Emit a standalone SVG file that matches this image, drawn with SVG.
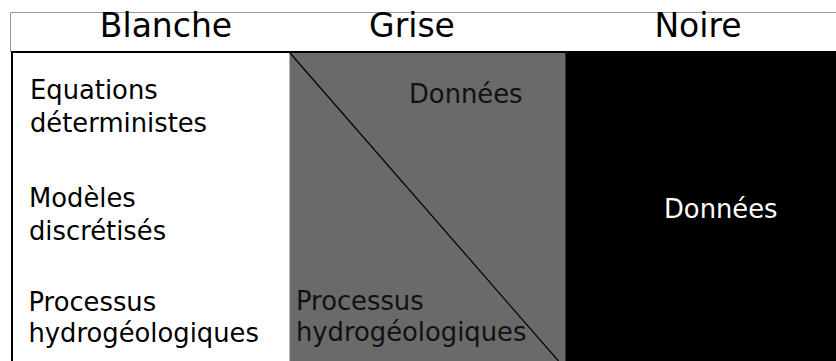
<svg xmlns="http://www.w3.org/2000/svg" width="836" height="361" viewBox="0 0 836 361">
<style>
text{font-family:"DejaVu Sans","Liberation Sans",sans-serif;}
.h{font-size:33px;fill:#000;text-anchor:middle;}
.t{font-size:25.8px;fill:#000;}
.tg{font-size:25.8px;fill:#111;}
.tw{font-size:25.8px;fill:#fff;}
</style>
<rect width="836" height="361" fill="#fff"/>
<g id="header">
<path d="M10.5 52 V12.5 H836" fill="none" stroke="#999" stroke-width="1"/>
<text class="h" x="166" y="37">Blanche</text>
<text class="h" x="412" y="37">Grise</text>
<text class="h" x="698" y="37">Noire</text>
</g>
<g id="blanche">
<rect x="12" y="52" width="278" height="309" fill="#fff"/>
<text class="t" x="30" y="99">Equations</text>
<text class="t" x="30" y="131.5">déterministes</text>
<text class="t" x="29" y="206.5">Modèles</text>
<text class="t" x="29" y="239.5">discrétisés</text>
<text class="t" x="28.5" y="310.5">Processus</text>
<text class="t" x="28.5" y="341.5">hydrogéologiques</text>
</g>
<g id="grise">
<rect x="289.5" y="52" width="276.5" height="309" fill="#6a6a6a"/>
<line x1="290" y1="53" x2="558.5" y2="361" stroke="#000" stroke-width="1.2"/>
<text class="tg" x="409" y="103">Données</text>
<text class="tg" x="296" y="310">Processus</text>
<text class="tg" x="296" y="341">hydrogéologiques</text>
</g>
<g id="noire">
<rect x="565.5" y="52" width="270.5" height="309" fill="#000"/>
<text class="tw" x="664" y="218">Données</text>
</g>
<g id="frame">
<line x1="11" y1="52" x2="836" y2="52" stroke="#000" stroke-width="2"/>
<line x1="12" y1="52" x2="12" y2="361" stroke="#000" stroke-width="2"/>
</g>
</svg>
